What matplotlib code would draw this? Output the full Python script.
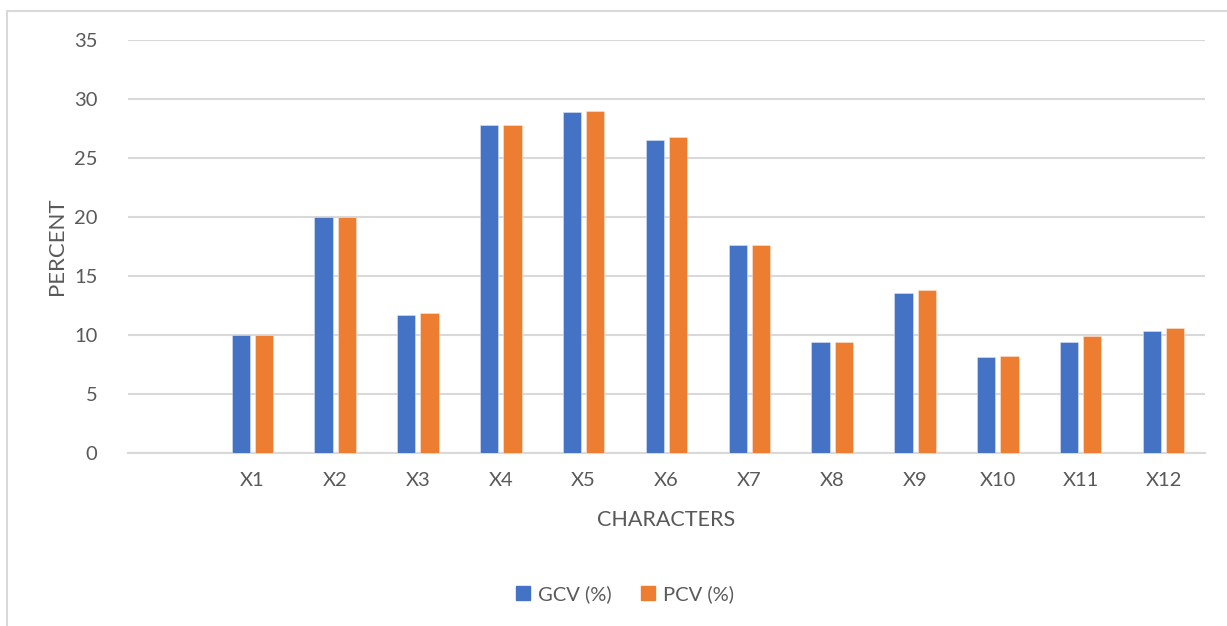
import numpy as np
import matplotlib
matplotlib.use("Agg")
import matplotlib.pyplot as plt
from matplotlib.lines import Line2D

# first slot is empty in the original chart
categories = ["", "X1", "X2", "X3", "X4", "X5", "X6", "X7", "X8", "X9", "X10", "X11", "X12"]
gcv = [np.nan, 10.0, 20.0, 11.7, 27.8, 28.9, 26.5, 17.6, 9.4, 13.6, 8.1, 9.4, 10.3]
pcv = [np.nan, 10.0, 20.0, 11.9, 27.8, 29.0, 26.8, 17.6, 9.4, 13.8, 8.2, 9.9, 10.6]
yticks = [0, 5, 10, 15, 20, 25, 30, 35]

BLUE = "#4472C4"
ORANGE = "#ED7D31"
GRID = "#D9D9D9"
TXT = "#595959"

plt.rcParams['font.family'] = ['Lato', 'DejaVu Sans']

W, H = 1227, 626
fig = plt.figure(figsize=(W / 100, H / 100), dpi=100)
ax = fig.add_axes([128 / W, 1 - 453 / H, (1205 - 128) / W, (453 - 40) / H])

x = np.arange(len(categories))
bw = 0.22
off = 0.14
ax.bar(x - off, gcv, bw, color=BLUE, edgecolor="#DAE3F3", linewidth=0.4, label="GCV (%)", zorder=3)
ax.bar(x + off, pcv, bw, color=ORANGE, edgecolor="#FBE5D6", linewidth=0.4, label="PCV (%)", zorder=3)

ax.set_xlim(-0.5, len(categories) - 0.5)
ax.set_ylim(0, 35)
ax.set_yticks(yticks)
ax.set_xticks(x)
ax.set_xticklabels(categories)
ax.yaxis.grid(True, color=GRID, linewidth=1.5, zorder=0)
ax.set_axisbelow(True)
for s in ["top", "right", "left"]:
    ax.spines[s].set_visible(False)
ax.spines["bottom"].set_color(GRID)
ax.spines["bottom"].set_linewidth(1.5)
ax.tick_params(axis="both", length=0, labelsize=14.5, labelcolor=TXT)
ax.tick_params(axis="y", pad=22)
ax.tick_params(axis="x", pad=14)

ax.set_xlabel("CHARACTERS", fontsize=15.5, color=TXT, labelpad=15)
ax.set_ylabel("PERCENT", fontsize=16, color=TXT, labelpad=5)

handles = [plt.Rectangle((0, 0), 1, 1, color=BLUE), plt.Rectangle((0, 0), 1, 1, color=ORANGE)]
fig.legend(handles, ["GCV (%)", "PCV (%)"], loc="center", bbox_to_anchor=(625 / W, 1 - 594 / H),
           ncol=2, frameon=False, fontsize=14.5, labelcolor=TXT, handlelength=0.65, handleheight=0.65,
           handletextpad=0.4, columnspacing=1.5)

# outer chart border (left and top edges visible)
fig.add_artist(Line2D([7 / W, 7 / W], [0, 1 - 11 / H], color=GRID, linewidth=1.5, transform=fig.transFigure))
fig.add_artist(Line2D([7 / W, 1], [1 - 11 / H, 1 - 11 / H], color=GRID, linewidth=1.5, transform=fig.transFigure))

fig.savefig("out.png", dpi=100)
